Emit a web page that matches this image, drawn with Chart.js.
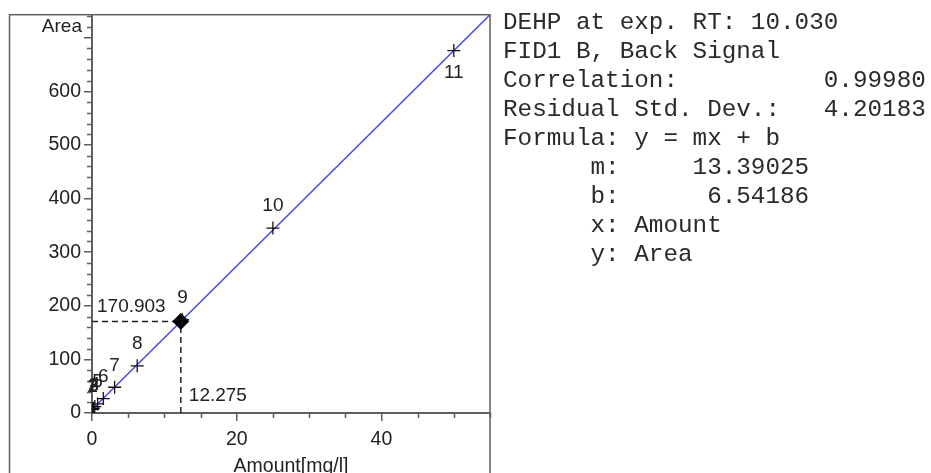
<!DOCTYPE html>
<html>
<head>
<meta charset="utf-8">
<title>DEHP calibration</title>
<script src="https://cdn.jsdelivr.net/npm/chart.js@4.4.0/dist/chart.umd.min.js"></script>
<style>
    html, body { margin: 0; padding: 0; background: #fff; }
    #wrap { position: relative; width: 931px; height: 473px; overflow: hidden; }
    #calChart { position: absolute; left: 0; top: 0; }
    #info {
        position: absolute; left: 503px; top: 8px; margin: 0;
        font-family: "Liberation Mono", monospace; font-size: 24.3px; line-height: 29px;
        color: #2a2a2a;
    }
</style>
</head>
<body>
<div id="wrap">
    <canvas id="calChart" width="931" height="473"></canvas>
    <pre id="info"></pre>
</div>
<script>
    // Calibration levels
    const levelLabels  = ['1', '2', '3', '4', '5', '6', '7', '8', '9', '10', '11'];
    const levelAmounts = [0.05, 0.1, 0.2, 0.39, 0.78, 1.56, 3.125, 6.25, 12.5, 25, 50];
    const levelAreas   = [7, 8, 9, 12, 17, 27, 48, 88, 174, 345, 676];

    // Current sample
    const sampleAmount = [12.275];
    const sampleArea   = [170.903];

    // Regression line end points
    const fitAmounts = [0, 55];
    const fitAreas   = [6.54, 743.0];

    // Axis ticks
    const xTickLabels = [0, 20, 40];
    const yTickLabels = [0, 100, 200, 300, 400, 500, 600];

    // Text block on the right
    const infoLines = [
        'DEHP at exp. RT: 10.030',
        'FID1 B, Back Signal',
        'Correlation:          0.99980',
        'Residual Std. Dev.:   4.20183',
        'Formula: y = mx + b',
        '      m:     13.39025',
        '      b:      6.54186',
        '      x: Amount',
        '      y: Area'
    ];

    document.getElementById('info').textContent = infoLines.join('\n');

    const FONT = '"Liberation Sans", Arial, sans-serif';
    const AXIS = '#5f5f5f';
    const INK = '#222';

    const toPoints = (xs, ys) => xs.map((x, i) => ({ x: x, y: ys[i] }));

    // frame, minor ticks, labels
    const decorPlugin = {
        id: 'decor',
        afterDraw(chart) {
            const ctx = chart.ctx;
            const xs = chart.scales.x;
            const ys = chart.scales.y;
            const area = chart.chartArea;

            ctx.save();
            // outer frame
            ctx.strokeStyle = AXIS;
            ctx.lineWidth = 1.5;
            ctx.strokeRect(9.5, area.top, area.right - 9.5, 480);

            // minor ticks
            ctx.lineWidth = 1.5;
            ctx.beginPath();
            for (let v = 5; v <= 55; v += 5) {
                if (v % 20 === 0) continue;
                const px = Math.round(xs.getPixelForValue(v)) + 0.5;
                ctx.moveTo(px, area.bottom);
                ctx.lineTo(px, area.bottom + 5);
            }
            for (let v = 20; v <= 740; v += 20) {
                if (v % 100 === 0) continue;
                const py = Math.round(ys.getPixelForValue(v)) + 0.5;
                ctx.moveTo(area.left - 5, py);
                ctx.lineTo(area.left, py);
            }
            ctx.stroke();

            ctx.fillStyle = INK;
            ctx.font = '19px ' + FONT;

            // y axis name at the top
            ctx.textAlign = 'right';
            ctx.textBaseline = 'middle';
            ctx.fillText('Area', area.left - 10, ys.getPixelForValue(720));

            // level numbers
            const meta = chart.getDatasetMeta(0);
            ctx.textAlign = 'center';
            meta.data.forEach((pt, i) => {
                const below = i === levelLabels.length - 1;
                ctx.fillText(levelLabels[i], pt.x, below ? pt.y + 22 : pt.y - 22);
            });

            // sample values
            ctx.textAlign = 'left';
            ctx.fillText(sampleArea[0].toFixed(3), xs.getPixelForValue(0) + 5,
                ys.getPixelForValue(sampleArea[0]) - 15);
            ctx.fillText(sampleAmount[0].toFixed(3), xs.getPixelForValue(sampleAmount[0]) + 8,
                ys.getPixelForValue(0) - 17);
            ctx.restore();
        }
    };

    new Chart(document.getElementById('calChart'), {
        type: 'scatter',
        data: {
            datasets: [
                {
                    label: 'Levels',
                    data: toPoints(levelAmounts, levelAreas),
                    pointStyle: 'cross',
                    pointRadius: 6.5,
                    borderColor: '#111',
                    borderWidth: 1.3
                },
                {
                    label: 'Sample',
                    data: toPoints(sampleAmount, sampleArea),
                    pointStyle: 'rectRot',
                    pointRadius: 8,
                    backgroundColor: '#000',
                    borderColor: '#000',
                    borderWidth: 1
                },
                {
                    label: 'Sample area',
                    data: [{ x: 0, y: sampleArea[0] }, { x: sampleAmount[0], y: sampleArea[0] }],
                    showLine: true,
                    pointRadius: 0,
                    borderColor: INK,
                    borderWidth: 1.5,
                    borderDash: [6, 4]
                },
                {
                    label: 'Sample amount',
                    data: [{ x: sampleAmount[0], y: 0 }, { x: sampleAmount[0], y: sampleArea[0] }],
                    showLine: true,
                    pointRadius: 0,
                    borderColor: INK,
                    borderWidth: 1.5,
                    borderDash: [6, 4]
                },
                {
                    label: 'Fit',
                    data: toPoints(fitAmounts, fitAreas),
                    showLine: true,
                    pointRadius: 0,
                    borderColor: '#4444ff',
                    borderWidth: 1.5
                }
            ]
        },
        options: {
            responsive: false,
            animation: false,
            events: [],
            layout: { padding: { left: 0, top: 12, right: 441, bottom: 0 } },
            plugins: {
                legend: { display: false },
                tooltip: { enabled: false }
            },
            scales: {
                x: {
                    type: 'linear',
                    min: 0,
                    max: 55,
                    afterFit: function(scale) { scale.height = 60; },
                    border: { color: AXIS, width: 2 },
                    grid: { drawOnChartArea: false, tickLength: 8, color: AXIS, lineWidth: 1.5 },
                    ticks: {
                        stepSize: 20,
                        includeBounds: false,
                        maxRotation: 0,
                        padding: 7,
                        color: INK,
                        font: { family: FONT, size: 19.5 },
                        callback: function(value) {
                            return xTickLabels.includes(value) ? String(value) : '';
                        }
                    },
                    title: {
                        display: true,
                        text: 'Amount[mg/l]',
                        color: INK,
                        padding: 0,
                        font: { family: FONT, size: 19.5, lineHeight: 0.7 }
                    }
                },
                y: {
                    type: 'linear',
                    min: 0,
                    max: 743,
                    afterFit: function(scale) { scale.width = 92; },
                    border: { color: AXIS, width: 2 },
                    grid: { drawOnChartArea: false, tickLength: 8, color: AXIS, lineWidth: 1.5 },
                    ticks: {
                        stepSize: 100,
                        includeBounds: false,
                        padding: 3,
                        color: INK,
                        font: { family: FONT, size: 19.5 },
                        callback: function(value) {
                            return yTickLabels.includes(value) ? String(value) : '';
                        }
                    }
                }
            }
        },
        plugins: [decorPlugin]
    });
</script>
</body>
</html>
